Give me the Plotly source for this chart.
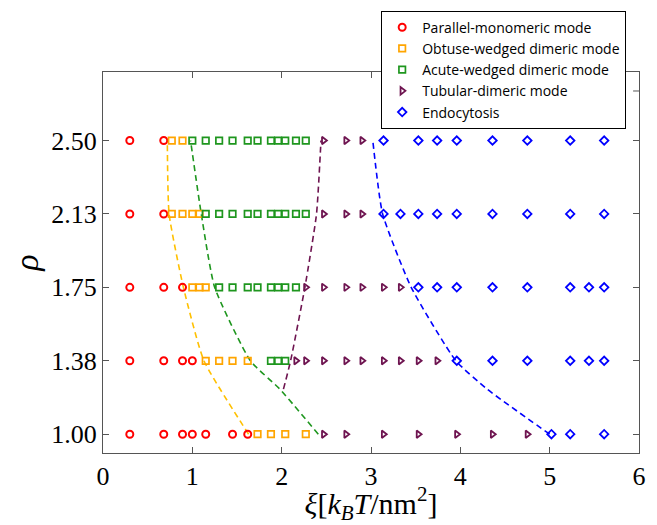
import plotly.graph_objects as go

# Adhesion-energy density (xi, k_BT/nm^2) sampled at each coverage rho
RHO_LEVELS = [1.00, 1.375, 1.75, 2.125, 2.50]
RHO_LABELS = ["1.00", "1.38", "1.75", "2.13", "2.50"]

# One list of xi values per rho level (same order as RHO_LEVELS)
parallel_xi = [
    [0.30, 0.68, 0.89, 1.00, 1.15, 1.45, 1.62],
    [0.30, 0.68, 0.89, 1.00],
    [0.30, 0.68, 0.89],
    [0.30, 0.68],
    [0.30, 0.68],
]
obtuse_xi = [
    [1.73, 1.88, 2.04, 2.27],
    [1.15, 1.30, 1.45, 1.62],
    [1.00, 1.08, 1.15],
    [0.77, 0.89, 1.00, 1.08],
    [0.77, 0.89],
]
acute_xi = [
    [],
    [1.88, 1.96, 2.04],
    [1.30, 1.45, 1.62, 1.73, 1.88, 1.96, 2.04, 2.16],
    [1.15, 1.30, 1.45, 1.62, 1.73, 1.88, 1.96, 2.04, 2.16, 2.27],
    [1.00, 1.15, 1.30, 1.45, 1.62, 1.73, 1.88, 1.96, 2.04, 2.16, 2.27],
]
tubular_xi = [
    [2.47, 2.72, 3.14, 3.53, 3.96, 4.36, 4.75],
    [2.16, 2.27, 2.47, 2.72, 2.90, 3.14, 3.33, 3.53, 3.74],
    [2.27, 2.47, 2.72, 2.90, 3.14, 3.33],
    [2.47, 2.72, 2.90],
    [2.47, 2.72, 2.90],
]
endo_xi = [
    [5.02, 5.23, 5.61],
    [3.96, 4.36, 4.75, 5.23, 5.44, 5.61],
    [3.53, 3.74, 3.96, 4.36, 4.75, 5.23, 5.44, 5.61],
    [3.14, 3.33, 3.53, 3.74, 3.96, 4.36, 4.75, 5.23, 5.61],
    [3.14, 3.53, 3.74, 3.96, 4.36, 4.75, 5.23, 5.61],
]

# Phase boundaries (xi, rho)
obtuse_bound_xi = [1.63, 1.13, 0.90, 0.74, 0.72]
obtuse_bound_rho = [1.00, 1.375, 1.75, 2.125, 2.50]
acute_bound_xi = [2.41, 1.98, 1.65, 1.25, 1.10, 0.98]
acute_bound_rho = [1.00, 1.23, 1.375, 1.75, 2.125, 2.50]
tubular_bound_xi = [2.02, 2.10, 2.26, 2.39, 2.44]
tubular_bound_rho = [1.23, 1.375, 1.75, 2.125, 2.50]
endo_bound_xi = [5.00, 4.30, 3.95, 3.45, 3.13, 3.02]
endo_bound_rho = [1.00, 1.23, 1.375, 1.75, 2.125, 2.50]

# name, xi rows, symbol, colour, size, outline width
modes = [
    ("Parallel-monomeric mode", parallel_xi, "circle-open", "#ff0000", 7, 2.0),
    ("Obtuse-wedged dimeric mode", obtuse_xi, "square-open", "#ffa500", 6.5, 1.7),
    ("Acute-wedged dimeric mode", acute_xi, "square-open", "#1e961e", 6.5, 1.7),
    ("Tubular-dimeric mode", tubular_xi, "triangle-right-open", "#6e1450", 6.5, 1.8),
    ("Endocytosis", endo_xi, "diamond-open", "#0000ff", 6.5, 1.8),
]

bounds = [
    (obtuse_bound_xi, obtuse_bound_rho, "#ffc000"),
    (acute_bound_xi, acute_bound_rho, "#1e961e"),
    (tubular_bound_xi, tubular_bound_rho, "#6e1450"),
    (endo_bound_xi, endo_bound_rho, "#0000ff"),
]

fig = go.Figure()

for bx, by, col in bounds:
    fig.add_trace(go.Scatter(
        x=bx, y=by, mode="lines", showlegend=False, hoverinfo="skip",
        line=dict(color=col, width=1.6, dash="6px,4px", shape="spline", smoothing=0.5),
    ))

for name, rows, sym, col, size, lw in modes:
    xs, ys = [], []
    for rho, row in zip(RHO_LEVELS, rows):
        xs += row
        ys += [rho] * len(row)
    fig.add_trace(go.Scatter(
        x=xs, y=ys, mode="markers", name=name,
        marker=dict(symbol=sym, size=size, color=col, line=dict(color=col, width=lw)),
    ))

serif = "Liberation Serif, Times New Roman, serif"
axis_font = dict(family=serif, size=26, color="#000")

# extra inward tick on the right-hand frame
fig.add_shape(type="line", xref="paper", yref="y", x0=1, x1=0.989, y0=2.753, y1=2.753,
              line=dict(color="#555", width=1))

fig.update_layout(
    width=657, height=525,
    margin=dict(l=103, r=11, t=70, b=71),
    paper_bgcolor="white", plot_bgcolor="white",
    legend=dict(
        x=0.519, y=1.161, xanchor="left", yanchor="top",
        bgcolor="white", bordercolor="#000", borderwidth=1,
        font=dict(family="Open Sans, Lato, sans-serif", size=14, color="#000"),
        tracegroupgap=0, itemwidth=30,
    ),
    xaxis=dict(
        range=[0, 6], tickvals=[0, 1, 2, 3, 4, 5, 6],
        ticks="inside", ticklen=6, tickcolor="#555", tickwidth=1,
        showline=True, linecolor="#555", linewidth=1, mirror="ticks",
        showgrid=False, zeroline=False, tickfont=axis_font,
        title=dict(
            text="<i>ξ</i>[<i>k</i><sub><i>B</i></sub><i>T</i>/nm<sup>2</sup>]",
            font=dict(family=serif, size=30, color="#000"),
            standoff=2,
        ),
    ),
    yaxis=dict(
        range=[0.904, 2.85], tickvals=RHO_LEVELS, ticktext=RHO_LABELS,
        ticks="inside", ticklen=6, tickcolor="#555", tickwidth=1,
        showline=True, linecolor="#555", linewidth=1, mirror="ticks",
        showgrid=False, zeroline=False, tickfont=axis_font,
        title=dict(
            text="<i>ρ</i>",
            font=dict(family=serif, size=34, color="#000"),
            standoff=2,
        ),
    ),
)

fig.write_html("out.html")
